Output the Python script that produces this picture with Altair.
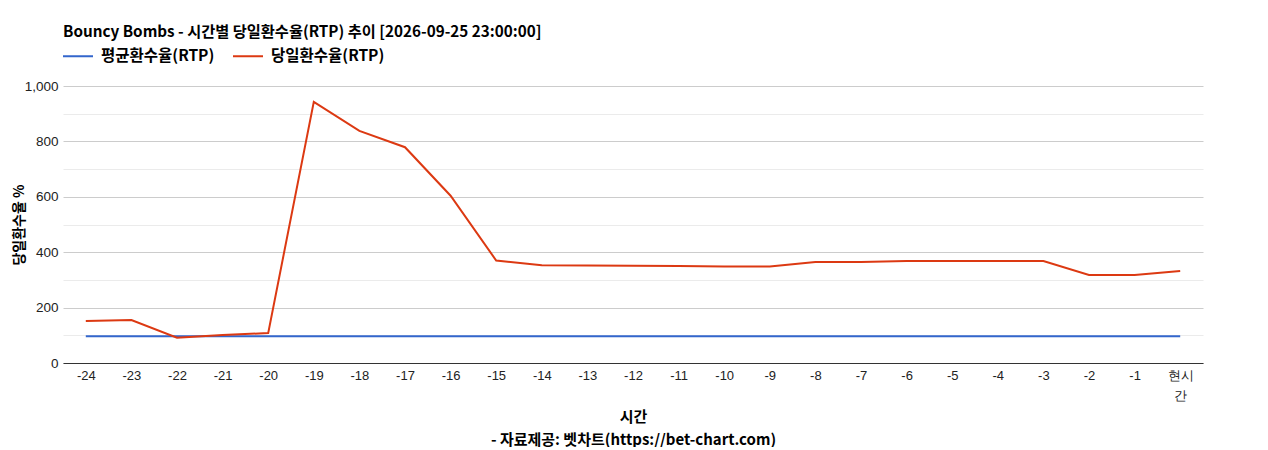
import altair as alt
import pandas as pd

hours = ["-24", "-23", "-22", "-21", "-20", "-19", "-18", "-17", "-16", "-15",
         "-14", "-13", "-12", "-11", "-10", "-9", "-8", "-7", "-6", "-5",
         "-4", "-3", "-2", "-1", "현시간"]
avg_rtp = [97] * 25
daily_rtp = [152, 155, 91, 101, 108, 943, 838, 779, 604, 370,
             353, 352, 351, 350, 348, 348, 365, 365, 368, 368,
             368, 368, 318, 318, 332]
series_names = ["평균환수율(RTP)", "당일환수율(RTP)"]
series_colors = ["#3366cc", "#dc3912"]
y_ticks = [0, 100, 200, 300, 400, 500, 600, 700, 800, 900, 1000]

rows = []
for h, a, d in zip(hours, avg_rtp, daily_rtp):
    rows.append({"시간": h, "series": series_names[0], "value": a, "order": 0})
    rows.append({"시간": h, "series": series_names[1], "value": d, "order": 1})
df = pd.DataFrame(rows)

LABEL_FONT = "Liberation Sans"
BOLD_FONT = "Noto Sans CJK KR"

chart = alt.Chart(df).mark_line(strokeWidth=2).encode(
    x=alt.X("시간:N", sort=hours, scale=alt.Scale(type="point", padding=0.5),
            axis=alt.Axis(
                title=["시간", "- 자료제공: 벳차트(https://bet-chart.com)"],
                titleFont=BOLD_FONT, titleFontWeight="bold", titleFontSize=15,
                titleColor="#000", titleLineHeight=23,
                titleBaseline="top", titleY=46,
                labelAngle=0, labelFont=LABEL_FONT, labelFontSize=13,
                labelColor="#222", labelPadding=6, labelLineHeight=20,
                labelExpr="datum.value == '현시간' ? ['현시', '간'] : datum.label",
                ticks=False, domainColor="#333", domainWidth=1, grid=False)),
    y=alt.Y("value:Q", scale=alt.Scale(domain=[0, 1000], nice=False),
            axis=alt.Axis(
                values=y_ticks, title="당일환수율 %",
                titleFont=BOLD_FONT, titleFontWeight="bold", titleFontSize=14,
                titleColor="#000", titleAngle=-90, titleAlign="center",
                titleBaseline="middle", titleX=-44, titleY=138.5,
                labelFont=LABEL_FONT, labelFontSize=13.5, labelColor="#222",
                labelPadding=5, ticks=False, domain=False,
                labelExpr="datum.value % 200 == 0 ? format(datum.value, ',') : ''",
                gridColor={"condition": {"test": "datum.value % 200 == 0", "value": "#cccccc"},
                           "value": "#ebebeb"},
                gridWidth=1)),
    color=alt.Color("series:N", sort=series_names,
                    scale=alt.Scale(domain=series_names, range=series_colors),
                    legend=alt.Legend(
                        title=None, orient="none", legendX=-1, legendY=-46,
                        direction="horizontal", symbolType="stroke",
                        symbolSize=900, symbolStrokeWidth=2,
                        labelFont=BOLD_FONT, labelFontWeight="bold",
                        labelFontSize=15.5, labelColor="#000",
                        labelOffset=7, columnPadding=14)),
    order="order:Q",
).properties(
    width=1140, height=277,
    title=alt.TitleParams(
        "Bouncy Bombs - 시간별 당일환수율(RTP) 추이 [2026-09-25 23:00:00]",
        anchor="start", frame="group", font=BOLD_FONT, fontWeight="bold",
        fontSize=15.25, color="#000", offset=0),
    autosize=alt.AutoSizeParams(type="none"),
    padding={"left": 55, "top": 78, "right": 57, "bottom": 84},
).configure_view(stroke=None)

chart.save("out.html", embed_options={"renderer": "svg", "actions": False})
